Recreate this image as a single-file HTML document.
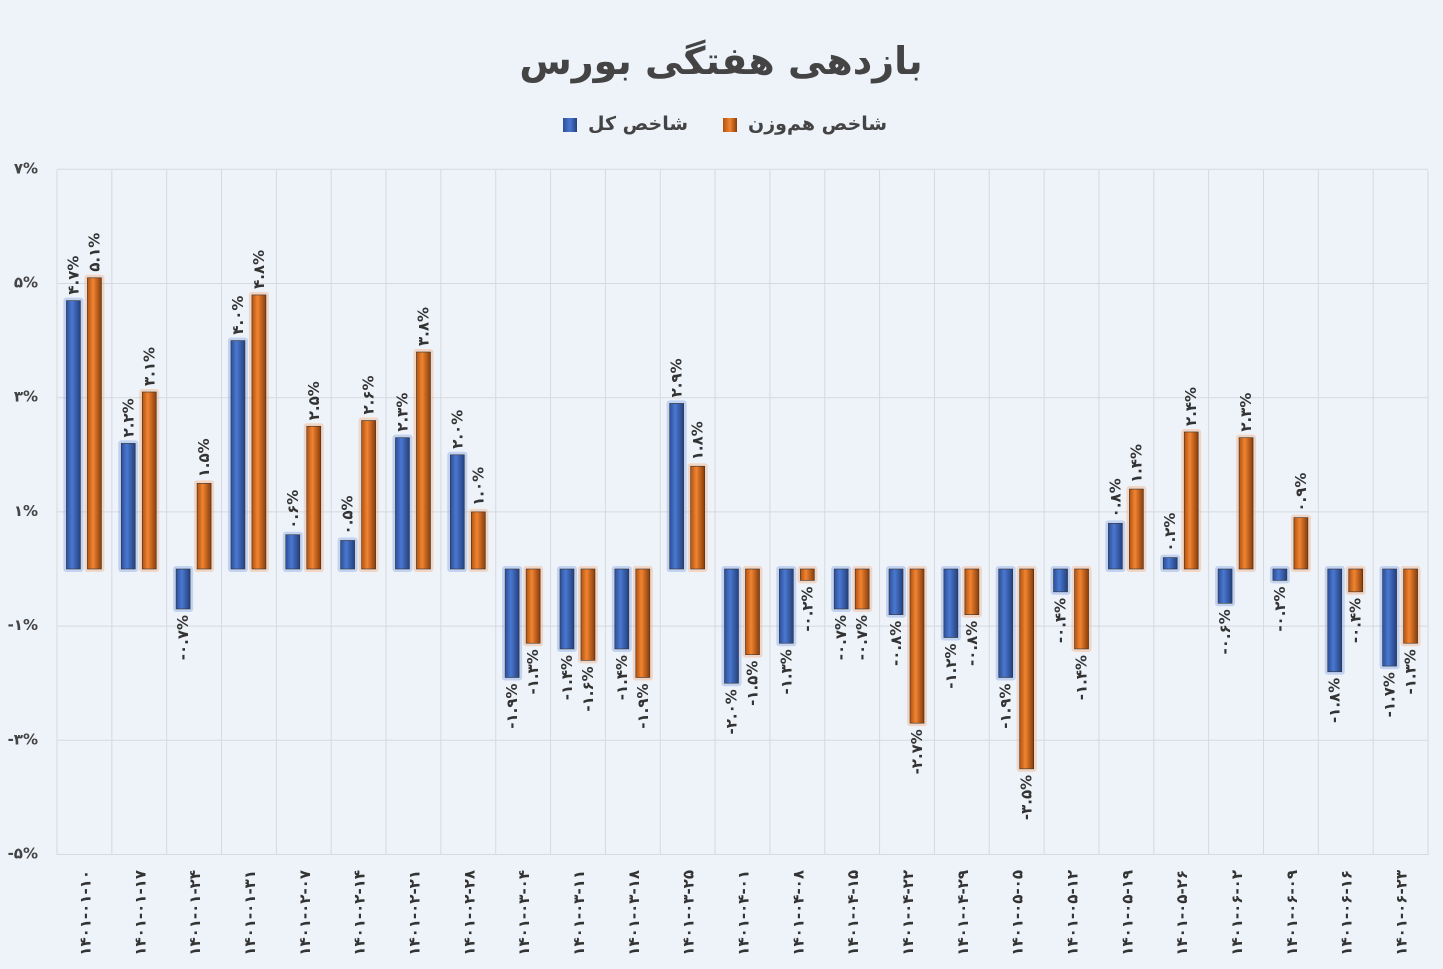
<!DOCTYPE html>
<html><head><meta charset="utf-8">
<style>
html,body{margin:0;padding:0;background:#fff;}
#w{width:1443px;height:969px;position:relative;background:#eef3fa;overflow:hidden;}
svg{position:absolute;left:0;top:0;}
text{font-family:"DejaVu Sans","Liberation Sans","Noto Sans CJK SC",sans-serif;}
.lg{position:absolute;top:113px;font:bold 19px "DejaVu Sans",sans-serif;color:#444;direction:rtl;white-space:nowrap;}
.sq{position:absolute;top:118px;width:14px;height:14px;}
</style></head><body>
<div id="w">
<svg id="s" width="1443" height="969" xmlns="http://www.w3.org/2000/svg">
<defs>
<linearGradient id="gb" x1="0" x2="1" y1="0" y2="0"><stop offset="0" stop-color="#2c4f9a"/><stop offset="0.4" stop-color="#4a78d0"/><stop offset="1" stop-color="#24407e"/></linearGradient>
<linearGradient id="go" x1="0" x2="1" y1="0" y2="0"><stop offset="0" stop-color="#b3520f"/><stop offset="0.4" stop-color="#f08432"/><stop offset="1" stop-color="#8a3c08"/></linearGradient>
</defs>
<text x="721" y="74" text-anchor="middle" font-size="38" font-weight="bold" fill="#444">بازدهی هفتگی بورس</text>
<g id="g"></g>
</svg>
<div class="sq" style="left:563px;background:linear-gradient(90deg,#2c4f9a,#4a78d0,#24407e)"></div>
<div class="lg" style="left:588px">شاخص کل</div>
<div class="sq" style="left:723px;background:linear-gradient(90deg,#b3520f,#f08432,#8a3c08)"></div>
<div class="lg" style="left:748px">شاخص هم‌وزن</div>
</div>
<script>
const fa=s=>s.replace(/[0-9]/g,d=>'۰۱۲۳۴۵۶۷۸۹'[d]);
const B=[4.7,2.2,-0.7,4.0,0.6,0.5,2.3,2.0,-1.9,-1.4,-1.4,2.9,-2.0,-1.3,-0.7,-0.8,-1.2,-1.9,-0.4,0.8,0.2,-0.6,-0.2,-1.8,-1.7];
const O=[5.1,3.1,1.5,4.8,2.5,2.6,3.8,1.0,-1.3,-1.6,-1.9,1.8,-1.5,-0.2,-0.7,-2.7,-0.8,-3.5,-1.4,1.4,2.4,2.3,0.9,-0.4,-1.3];
const D=["01-10","01-17","01-24","01-31","02-07","02-14","02-21","02-28","03-04","03-11","03-18","03-25","04-01","04-08","04-15","04-22","04-29","05-05","05-12","05-19","05-26","06-02","06-09","06-16","06-23"];
const L=57,R=1428,T=170,Bt=855,Z=569,U=57.1,W=(R-L)/25;
const BD='direction="ltr" unicode-bidi="bidi-override"';
let h='';
for(let v=7;v>=-5;v-=2){const y=Z-v*U;h+=`<line x1="${L}" x2="${R}" y1="${y}" y2="${y}" stroke="#d6d9de" stroke-width="1"/>`;
h+=`<text x="38" y="${y+4}" text-anchor="end" font-size="15" font-weight="bold" fill="#444" ${BD}>${fa(v+'%')}</text>`;}
for(let i=0;i<=25;i++){const x=L+i*W;h+=`<line x1="${x}" x2="${x}" y1="${T}" y2="${Bt}" stroke="#d6d9de" stroke-width="1"/>`;}
function bar(x,v,g,glow){const y=v>=0?Z-v*U:Z,hh=Math.abs(v)*U;
return `<rect x="${x-3}" y="${y-3}" width="20" height="${hh+6}" fill="${glow}" opacity="0.35" rx="3"/><rect x="${x}" y="${y}" width="14" height="${hh}" fill="url(#${g})" stroke="#333" stroke-width="0.6"/>`;}
function lab(x,v){const s=fa(v.toFixed(1)+'%');const cx=x+7+5;
if(v>=0){const y=Z-v*U-6;return `<text transform="translate(${cx},${y}) rotate(-90)" text-anchor="start" font-size="15" font-weight="bold" fill="#333" ${BD}>${s}</text>`;}
const y=Z-v*U+6;return `<text transform="translate(${cx},${y}) rotate(-90)" text-anchor="end" font-size="15" font-weight="bold" fill="#333" ${BD}>${s}</text>`;}
for(let i=0;i<25;i++){const c=L+W*(i+0.5);const bx=c-18,ox=c+3;
h+=bar(bx,B[i],'gb','#6f96e0')+bar(ox,O[i],'go','#f5a063');
h+=lab(bx,B[i])+lab(ox,O[i]);
h+=`<text transform="translate(${c+6},870) rotate(-90)" text-anchor="end" font-size="15" font-weight="bold" fill="#333" ${BD}>${fa('1401-'+D[i])}</text>`;}
document.getElementById('g').innerHTML=h;
</script>
</body></html>
